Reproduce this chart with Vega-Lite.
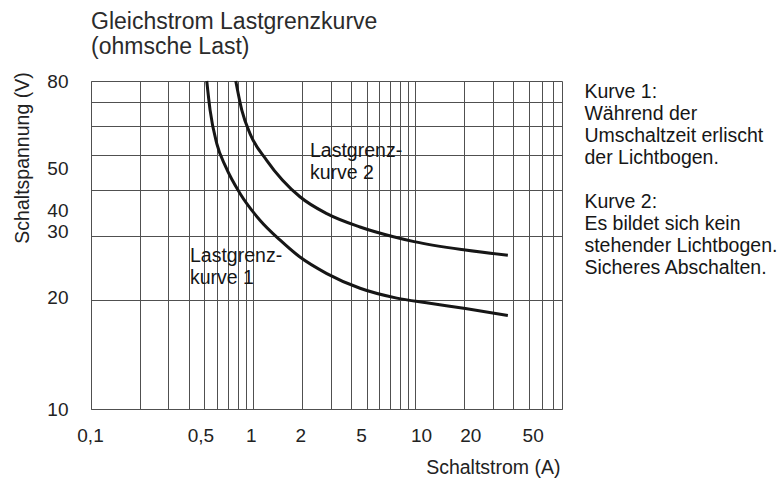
{
  "$schema": "https://vega.github.io/schema/vega-lite/v6.json",
  "width": 471,
  "height": 328,
  "autosize": "none",
  "padding": {"left": 91, "top": 81, "right": 218, "bottom": 70},
  "background": "white",
  "config": {"view": {"stroke": null}, "font": "Liberation Sans"},
  "title": {
    "text": ["Gleichstrom Lastgrenzkurve", "(ohmsche Last)"],
    "anchor": "start",
    "frame": "group",
    "font": "Liberation Sans",
    "fontSize": 23,
    "fontWeight": "normal",
    "color": "#2b2b2b",
    "lineHeight": 25,
    "offset": 13
  },
  "layer": [
    {
      "data": {
        "values": [
          {"curve": "1", "I": 0.517, "U": 80},
          {"curve": "1", "I": 0.542, "U": 66.5},
          {"curve": "1", "I": 0.596, "U": 53.8},
          {"curve": "1", "I": 0.677, "U": 46.4},
          {"curve": "1", "I": 0.829, "U": 39.2},
          {"curve": "1", "I": 1.10, "U": 33.1},
          {"curve": "1", "I": 1.46, "U": 29.2},
          {"curve": "1", "I": 1.94, "U": 26.2},
          {"curve": "1", "I": 2.84, "U": 23.6},
          {"curve": "1", "I": 4.55, "U": 21.5},
          {"curve": "1", "I": 7.67, "U": 20.2},
          {"curve": "1", "I": 11.7, "U": 19.6},
          {"curve": "1", "I": 20.3, "U": 18.9},
          {"curve": "1", "I": 37.1, "U": 18.1},
          {"curve": "2", "I": 0.78, "U": 80},
          {"curve": "2", "I": 0.85, "U": 66.5},
          {"curve": "2", "I": 0.955, "U": 57.3},
          {"curve": "2", "I": 1.21, "U": 48.4},
          {"curve": "2", "I": 1.94, "U": 38.4},
          {"curve": "2", "I": 2.84, "U": 34.5},
          {"curve": "2", "I": 4.55, "U": 31.7},
          {"curve": "2", "I": 7.31, "U": 29.8},
          {"curve": "2", "I": 9.8, "U": 28.9},
          {"curve": "2", "I": 20.3, "U": 27.4},
          {"curve": "2", "I": 37.1, "U": 26.5}
        ]
      },
      "mark": {"type": "line", "interpolate": "monotone", "strokeWidth": 3, "color": "#161616"},
      "encoding": {
        "x": {
          "field": "I",
          "type": "quantitative",
          "scale": {"type": "log", "domain": [0.1, 80], "nice": false},
          "axis": {
            "title": "Schaltstrom (A)",
            "values": [0.1, 0.2, 0.3, 0.4, 0.5, 0.6, 0.7, 0.8, 0.9, 1, 2, 3, 4, 5, 6, 7, 8, 9, 10, 20, 30, 40, 50, 60, 70, 80],
            "labelExpr": "indexof([0.1, 0.5, 1, 2, 5, 10, 20, 50], datum.value) >= 0 ? replace(format(datum.value, '~g'), '.', ',') : ''",
            "labelOverlap": false,
            "labelFlush": false,
            "grid": true,
            "gridColor": "#505050",
            "gridWidth": 1,
            "gridOpacity": 1,
            "ticks": false,
            "domain": true,
            "domainColor": "#505050",
            "labelPadding": 17,
            "labelFont": "Liberation Sans",
            "labelFontSize": 19,
            "labelColor": "#222222",
            "labelOffset": {
              "condition": [
                {"test": "datum.value == 0.5", "value": -4},
                {"test": "datum.value == 1", "value": -2.5},
                {"test": "datum.value == 2", "value": -1.7},
                {"test": "datum.value == 5", "value": -5.7},
                {"test": "datum.value == 10", "value": 5.5},
                {"test": "datum.value == 20", "value": 6},
                {"test": "datum.value == 50", "value": 3.8}
              ],
              "value": -1
            },
            "titleX": 469,
            "titleY": 58,
            "titleAlign": "right",
            "titleBaseline": "middle",
            "titleFont": "Liberation Sans",
            "titleFontSize": 19.5,
            "titleFontWeight": "normal",
            "titleColor": "#222222"
          }
        },
        "y": {
          "field": "U",
          "type": "quantitative",
          "scale": {"type": "log", "domain": [10, 80], "nice": false},
          "axis": {
            "title": "Schaltspannung (V)",
            "values": [10, 20, 30, 40, 50, 60, 70, 80],
            "format": "~g",
            "labelExpr": "indexof([10, 20, 30, 40, 50, 80], datum.value) >= 0 ? datum.label : ''",
            "labelOverlap": false,
            "labelFlush": false,
            "grid": true,
            "gridColor": "#505050",
            "gridWidth": 1,
            "gridOpacity": 1,
            "ticks": false,
            "domain": true,
            "domainColor": "#505050",
            "labelPadding": 23,
            "labelFont": "Liberation Sans",
            "labelFontSize": 19,
            "labelColor": "#222222",
            "labelOffset": {
              "condition": [
                {"test": "datum.value == 50", "value": 13},
                {"test": "datum.value == 40", "value": 20},
                {"test": "datum.value == 30", "value": -4},
                {"test": "datum.value == 20", "value": -2}
              ],
              "value": 0
            },
            "titleX": -59,
            "titleY": 76.5,
            "titleAngle": -90,
            "titleAlign": "center",
            "titleBaseline": "bottom",
            "titleFont": "Liberation Sans",
            "titleFontSize": 19.5,
            "titleFontWeight": "normal",
            "titleColor": "#222222"
          }
        },
        "detail": {"field": "curve", "type": "nominal"}
      }
    },
    {
      "data": {
        "values": [
          {"I": 0.4076, "U": 25.4, "text": "Lastgrenz-\nkurve 1"},
          {"I": 2.238, "U": 49.5, "text": "Lastgrenz-\nkurve 2"},
          {"I": 110, "U": 71.8, "text": "Kurve 1:\nWährend der\nUmschaltzeit erlischt\nder Lichtbogen."},
          {"I": 110, "U": 35.8, "text": "Kurve 2:\nEs bildet sich kein\nstehender Lichtbogen.\nSicheres Abschalten."}
        ]
      },
      "mark": {
        "type": "text",
        "align": "left",
        "baseline": "alphabetic",
        "lineBreak": "\n",
        "font": "Liberation Sans",
        "fontSize": 19.5,
        "lineHeight": 22,
        "color": "#161616"
      },
      "encoding": {
        "x": {"field": "I", "type": "quantitative"},
        "y": {"field": "U", "type": "quantitative"},
        "text": {"field": "text", "type": "nominal"}
      }
    }
  ]
}
